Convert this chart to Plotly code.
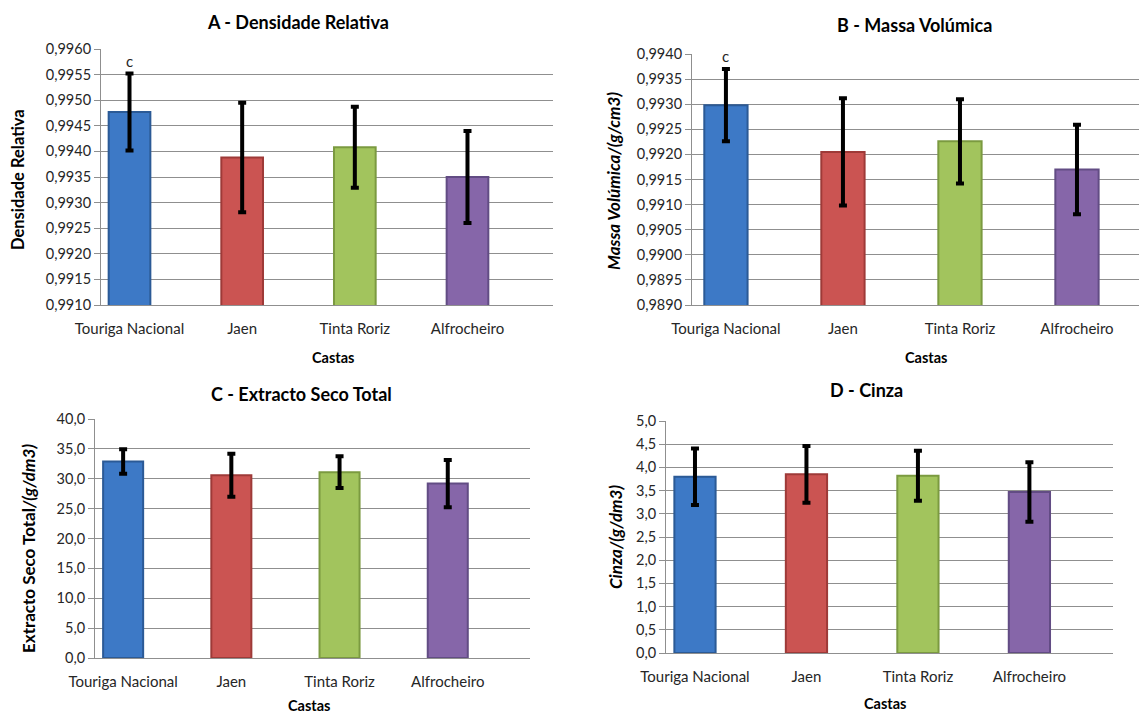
import plotly.graph_objects as go

# Grape varieties (castas)
castas = ["Touriga Nacional", "Jaen", "Tinta Roriz", "Alfrocheiro"]
bar_colors = ["#3D79C6", "#CB5452", "#A2C45D", "#8666A9"]
edge_colors = ["#2B5A96", "#9E3A38", "#7B9A40", "#624C84"]

# A - Densidade Relativa (mean and standard deviation)
densidade = [0.99477, 0.99388, 0.99408, 0.99350]
densidade_sd = [0.00075, 0.00107, 0.00079, 0.00090]

# B - Massa Volúmica, g/cm3
massa_vol = [0.99298, 0.99205, 0.99226, 0.99170]
massa_vol_sd = [0.00072, 0.00107, 0.00084, 0.00089]

# C - Extracto Seco Total, g/dm3
extracto = [32.9, 30.6, 31.1, 29.2]
extracto_sd = [2.05, 3.6, 2.65, 3.95]

# D - Cinza, g/dm3
cinza = [3.80, 3.85, 3.82, 3.47]
cinza_sd = [0.61, 0.61, 0.54, 0.64]

W, H = 1139, 716
FONT = "Lato"
GRID = "#8F8F8F"
TXT = "#262626"

fig = go.Figure()


def px_x(p):
    return p / W


def px_y(p):
    return 1 - p / H


panels = [
    # values, sd, y-range, dtick, format, x-domain px, y-domain px (top, bottom), x-range
    dict(v=densidade, sd=densidade_sd, yr=[0.9910, 0.9960], dt=0.0005, fmt=".4f",
         xd=(101, 553), yd=(49, 305), xr=[-0.253, 3.759]),
    dict(v=massa_vol, sd=massa_vol_sd, yr=[0.9890, 0.9940], dt=0.0005, fmt=".4f",
         xd=(692, 1139), yd=(54, 305), xr=[-0.29, 3.53]),
    dict(v=extracto, sd=extracto_sd, yr=[0, 40], dt=5, fmt=".1f",
         xd=(95, 530), yd=(419, 658), xr=[-0.26, 3.76]),
    dict(v=cinza, sd=cinza_sd, yr=[0, 5], dt=0.5, fmt=".1f",
         xd=(666, 1113), yd=(421, 653), xr=[-0.26, 3.75]),
]

layout_axes = {}
for i, p in enumerate(panels, start=1):
    xa = "x" if i == 1 else f"x{i}"
    ya = "y" if i == 1 else f"y{i}"
    fig.add_trace(go.Bar(
        x=castas, y=p["v"], xaxis=xa, yaxis=ya, width=0.37,
        marker=dict(color=bar_colors, line=dict(color=edge_colors, width=2)),
        error_y=dict(type="data", array=p["sd"], visible=True,
                     color="black", thickness=4, width=4),
        showlegend=False, hoverinfo="skip",
    ))
    span = p["yr"][1] - p["yr"][0]
    layout_axes["xaxis" if i == 1 else f"xaxis{i}"] = dict(
        domain=[px_x(p["xd"][0]), min(1.0, px_x(p["xd"][1]))],
        anchor=ya, type="category", range=p["xr"], automargin=False,
        showgrid=False, showline=True, linecolor=GRID, linewidth=1,
        ticks="", ticklabelstandoff=10,
        tickfont=dict(family=FONT, size=15, color=TXT), fixedrange=True,
    )
    layout_axes["yaxis" if i == 1 else f"yaxis{i}"] = dict(
        domain=[px_y(p["yd"][1]), px_y(p["yd"][0])],
        anchor=xa, range=[p["yr"][0], p["yr"][1] + span * 1e-6], automargin=False,
        tick0=p["yr"][0], dtick=p["dt"], tickformat=p["fmt"],
        showgrid=True, gridcolor=GRID, gridwidth=1,
        showline=True, linecolor=GRID, linewidth=1,
        ticks="outside", ticklen=6, tickcolor=GRID,
        tickfont=dict(family=FONT, size=14.5, color=TXT),
        zeroline=False, fixedrange=True,
    )

annotations = []


def ann(text, x, y, size=13, angle=0):
    annotations.append(dict(
        text=text, x=px_x(x), y=px_y(y), xref="paper", yref="paper",
        showarrow=False, textangle=angle, xanchor="center", yanchor="middle",
        font=dict(family=FONT, size=size, color="black")))


# Panel titles
ann("<b>A - Densidade Relativa</b>", 298, 22, size=18)
ann("<b>B - Massa Volúmica</b>", 914, 25, size=18)
ann("<b>C - Extracto Seco Total</b>", 301, 394, size=18)
ann("<b>D - Cinza</b>", 866, 390, size=18)

# X axis titles
ann("<b>Castas</b>", 333, 357, size=14.5)
ann("<b>Castas</b>", 926, 357, size=14.5)
ann("<b>Castas</b>", 309, 705, size=14.5)
ann("<b>Castas</b>", 885, 703, size=14.5)

# Y axis titles
ann("<b>Densidade Relativa</b>", 18, 180, size=16.5, angle=-90)
ann("<b><i>Massa Volúmica/(g/cm3)</i></b>", 613, 181, size=17, angle=-90)
ann("<b>Extracto Seco Total</b><b><i>/(g/dm3)</i></b>", 28, 549, size=17, angle=-90)
ann("<b><i>Cinza/(g/dm3)</i></b>", 615, 537, size=17, angle=-90)

# Significance letter above Touriga Nacional in A and B
for xa, ya, vals, sds in (("x", "y", densidade, densidade_sd),
                          ("x2", "y2", massa_vol, massa_vol_sd)):
    annotations.append(dict(
        text="c", x=castas[0], y=vals[0] + sds[0], xref=xa, yref=ya,
        showarrow=False, yanchor="bottom", yshift=2,
        font=dict(family=FONT, size=15, color=TXT)))

fig.update_layout(
    width=W, height=H,
    margin=dict(l=0, r=0, t=0, b=0, autoexpand=False),
    paper_bgcolor="white", plot_bgcolor="white",
    separators=",.",
    annotations=annotations,
    **layout_axes,
)

fig.write_html("out.html")
